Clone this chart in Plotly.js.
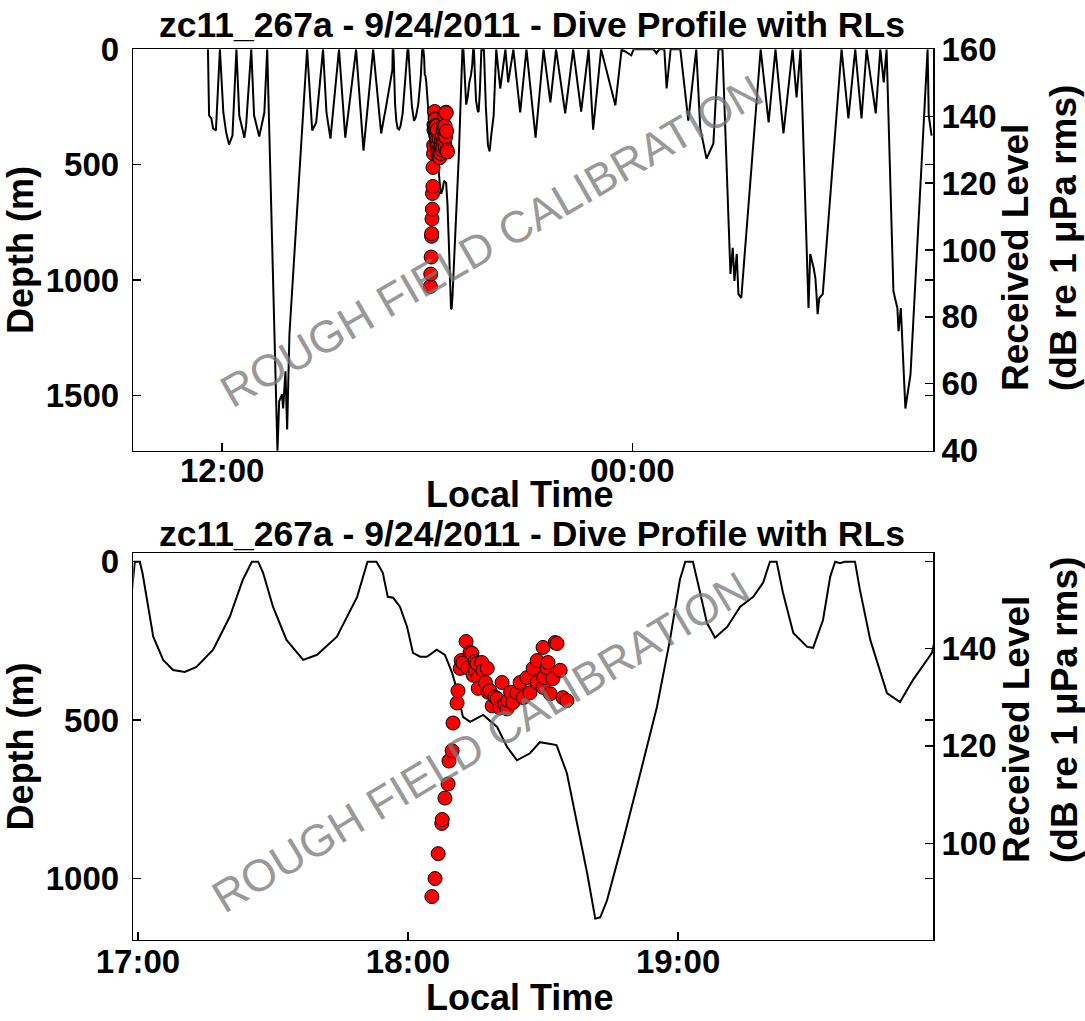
<!DOCTYPE html>
<html>
<head>
<meta charset="utf-8">
<script src="https://cdn.plot.ly/plotly-3.0.1.min.js"></script>
<style>html,body{margin:0;padding:0;background:#fff;}#chart{width:1085px;height:1021px;}</style>
</head>
<body>
<div id="chart"></div>
<script>
// ---- Dive profile (local time, depth in m) ----
const profileTime = [
 "2011-09-24 11:35","2011-09-24 11:37","2011-09-24 11:41","2011-09-24 11:44","2011-09-24 11:49","2011-09-24 11:56",
 "2011-09-24 12:02","2011-09-24 12:07","2011-09-24 12:12","2011-09-24 12:18","2011-09-24 12:25",
 "2011-09-24 12:30","2011-09-24 12:39","2011-09-24 12:42","2011-09-24 12:51",
 "2011-09-24 12:56","2011-09-24 13:05","2011-09-24 13:14","2011-09-24 13:19",
 "2011-09-24 13:37","2011-09-24 13:40","2011-09-24 13:45","2011-09-24 13:47","2011-09-24 13:51","2011-09-24 13:54","2011-09-24 13:58","2011-09-24 14:29",
 "2011-09-24 14:38","2011-09-24 14:45","2011-09-24 14:57",
 "2011-09-24 15:03","2011-09-24 15:10","2011-09-24 15:25",
 "2011-09-24 15:36","2011-09-24 15:55",
 "2011-09-24 16:08","2011-09-24 16:25",
 "2011-09-24 16:39","2011-09-24 16:48",
 "2011-09-24 16:58:42","2011-09-24 16:59:18","2011-09-24 17:00:24","2011-09-24 17:01:00","2011-09-24 17:03:24","2011-09-24 17:05:36",
 "2011-09-24 17:07:48","2011-09-24 17:10:24","2011-09-24 17:13:00","2011-09-24 17:16:42","2011-09-24 17:20:24","2011-09-24 17:23:18",
 "2011-09-24 17:25:18","2011-09-24 17:26:42","2011-09-24 17:27:48","2011-09-24 17:30:00","2011-09-24 17:33:00","2011-09-24 17:36:42",
 "2011-09-24 17:39:48","2011-09-24 17:44:12","2011-09-24 17:48:42","2011-09-24 17:51:00","2011-09-24 17:53:00","2011-09-24 17:54:24",
 "2011-09-24 17:55:30","2011-09-24 17:56:42","2011-09-24 17:58:12","2011-09-24 17:59:48","2011-09-24 18:01:06","2011-09-24 18:02:42",
 "2011-09-24 18:04:12","2011-09-24 18:06:24","2011-09-24 18:08:12","2011-09-24 18:09:48","2011-09-24 18:10:54","2011-09-24 18:12:12",
 "2011-09-24 18:13:48","2011-09-24 18:16:42","2011-09-24 18:19:48","2011-09-24 18:22:00","2011-09-24 18:24:12","2011-09-24 18:27:06",
 "2011-09-24 18:29:18","2011-09-24 18:33:00","2011-09-24 18:35:18","2011-09-24 18:37:36","2011-09-24 18:39:48","2011-09-24 18:41:36",
 "2011-09-24 18:42:42","2011-09-24 18:44:12","2011-09-24 18:47:48","2011-09-24 18:51:36","2011-09-24 18:55:18","2011-09-24 18:58:12",
 "2011-09-24 19:00:24","2011-09-24 19:01:36","2011-09-24 19:03:18","2011-09-24 19:04:54","2011-09-24 19:06:24","2011-09-24 19:08:12",
 "2011-09-24 19:10:54","2011-09-24 19:13:48","2011-09-24 19:16:42","2011-09-24 19:18:54","2011-09-24 19:20:24","2011-09-24 19:21:54",
 "2011-09-24 19:23:18","2011-09-24 19:25:36","2011-09-24 19:28:42","2011-09-24 19:30:00","2011-09-24 19:32:12","2011-09-24 19:33:48",
 "2011-09-24 19:34:54","2011-09-24 19:36:00","2011-09-24 19:37:00","2011-09-24 19:39:18","2011-09-24 19:40:24","2011-09-24 19:42:42",
 "2011-09-24 19:46:24","2011-09-24 19:49:18","2011-09-24 19:52:12","2011-09-24 19:56:24",
 "2011-09-24 20:01","2011-09-24 20:08","2011-09-24 20:17","2011-09-24 20:22","2011-09-24 20:31","2011-09-24 20:43","2011-09-24 20:54",
 "2011-09-24 21:10","2011-09-24 21:24","2011-09-24 21:36","2011-09-24 21:46","2011-09-24 22:02","2011-09-24 22:16",
 "2011-09-24 22:30","2011-09-24 22:43","2011-09-24 22:51","2011-09-24 23:05","2011-09-24 23:30","2011-09-24 23:41","2011-09-24 23:58",
 "2011-09-25 00:02","2011-09-25 00:37","2011-09-25 00:42","2011-09-25 00:47","2011-09-25 00:56","2011-09-25 01:00","2011-09-25 01:07",
 "2011-09-25 01:24","2011-09-25 01:38","2011-09-25 01:52","2011-09-25 01:59","2011-09-25 02:10","2011-09-25 02:22","2011-09-25 02:31",
 "2011-09-25 02:38","2011-09-25 02:52","2011-09-25 02:56","2011-09-25 02:59","2011-09-25 03:03","2011-09-25 03:06","2011-09-25 03:11",
 "2011-09-25 03:45","2011-09-25 03:59","2011-09-25 04:11","2011-09-25 04:25","2011-09-25 04:41","2011-09-25 04:48","2011-09-25 04:55",
 "2011-09-25 05:09","2011-09-25 05:12","2011-09-25 05:18","2011-09-25 05:21","2011-09-25 05:23","2011-09-25 05:25","2011-09-25 05:28",
 "2011-09-25 05:34","2011-09-25 06:07","2011-09-25 06:19","2011-09-25 06:31","2011-09-25 06:42","2011-09-25 06:51","2011-09-25 07:07",
 "2011-09-25 07:15","2011-09-25 07:21","2011-09-25 07:26","2011-09-25 07:38","2011-09-25 07:42","2011-09-25 07:45","2011-09-25 07:47",
 "2011-09-25 07:51","2011-09-25 07:59","2011-09-25 08:08","2011-09-25 08:38","2011-09-25 08:40","2011-09-25 08:45"
];
const profileDepth = [
 0,287,300,343,352,0,
 274,361,413,374,0,
 287,383,330,0,
 287,378,274,0,
 1745,1526,1496,1557,1396,1648,1235,0,
 352,317,0,
 274,387,0,
 383,0,
 439,0,
 365,243,
 89,0,0,35,237,310,
 342,348,332,278,174,57,
 0,0,35,142,247,310,
 294,237,111,0,0,35,
 111,114,142,206,288,300,
 300,278,294,351,405,490,
 506,484,522,585,627,605,
 570,579,668,826,984,1127,
 1123,1070,880,668,459,247,
 57,0,0,98,193,240,
 206,142,111,66,0,0,
 98,225,269,272,184,47,
 0,5,0,0,89,247,
 415,443,373,288,
 0,170,0,143,0,274,0,
 383,0,230,0,278,0,
 270,0,348,0,243,0,26,
 0,0,17,0,0,170,0,
 0,309,0,343,474,409,0,
 0,974,861,1004,887,1061,1078,
 0,317,0,365,0,209,0,
 1122,887,948,991,1061,1148,1078,
 1061,0,300,0,300,0,278,
 0,143,0,1048,1091,1122,1222,
 1122,1557,1409,0,287,374
];

// ---- Received levels (dB re 1 uPa rms) ----
const rlTime = [
 "2011-09-24 18:05:18","2011-09-24 18:06:00","2011-09-24 18:06:42","2011-09-24 18:07:30","2011-09-24 18:07:36","2011-09-24 18:08:12",
 "2011-09-24 18:08:54","2011-09-24 18:09:06","2011-09-24 18:09:48","2011-09-24 18:10:00","2011-09-24 18:10:54","2011-09-24 18:11:06",
 "2011-09-24 18:11:36","2011-09-24 18:11:48","2011-09-24 18:12:12","2011-09-24 18:12:54","2011-09-24 18:13:18","2011-09-24 18:13:48",
 "2011-09-24 18:14:12","2011-09-24 18:14:30","2011-09-24 18:14:54","2011-09-24 18:15:00","2011-09-24 18:15:18","2011-09-24 18:15:36",
 "2011-09-24 18:15:36","2011-09-24 18:16:24","2011-09-24 18:16:42","2011-09-24 18:17:12","2011-09-24 18:17:36","2011-09-24 18:17:48",
 "2011-09-24 18:18:12","2011-09-24 18:18:42","2011-09-24 18:19:18","2011-09-24 18:19:48","2011-09-24 18:20:24","2011-09-24 18:20:54",
 "2011-09-24 18:21:30","2011-09-24 18:22:00","2011-09-24 18:22:12","2011-09-24 18:22:48","2011-09-24 18:23:18","2011-09-24 18:24:12",
 "2011-09-24 18:24:54","2011-09-24 18:25:36","2011-09-24 18:26:24","2011-09-24 18:27:06","2011-09-24 18:27:48","2011-09-24 18:28:42",
 "2011-09-24 18:28:42","2011-09-24 18:30:00","2011-09-24 18:30:00","2011-09-24 18:30:12","2011-09-24 18:30:54","2011-09-24 18:31:06",
 "2011-09-24 18:31:36","2011-09-24 18:32:12","2011-09-24 18:32:42","2011-09-24 18:33:06","2011-09-24 18:33:48","2011-09-24 18:34:24",
 "2011-09-24 18:35:18"
];
const rlLevel = [
 89.1,92.8,97.9,104.1,104.9,109.3,
 112.2,116.9,119.0,124.7,128.8,131.3,
 135.9,137.5,137.0,141.4,136.0,139.2,
 139.0,134.5,137.3,135.5,136.9,134.0,
 131.8,137.1,135.5,133.0,135.9,131.0,
 131.3,128.2,130.0,129.7,127.8,133.0,
 128.5,127.6,129.3,131.0,128.9,130.9,
 133.0,129.9,134.0,130.9,135.9,133.0,
 137.5,140.2,132.0,134.0,136.0,137.1,
 130.7,133.8,141.2,141.0,135.5,129.9,
 129.3
];

const titleText = "zc11_267a - 9/24/2011 - Dive Profile with RLs";
const xTitle = "Local Time";
const depthTitle = "Depth (m)";
const rlTitle = "Received Level<br>(dB re 1 μPa rms)";
const watermark = "ROUGH FIELD CALIBRATION";

const FONT = "Liberation Sans, Arial, Helvetica, sans-serif";
const tickFont = {family: FONT, size: 33, color: "#000", weight: 700};
const titleFont = {family: FONT, size: 35.5, color: "#000", weight: 700};
const labelFont = {family: FONT, size: 36, color: "#000", weight: 700};
const xLabelFont = {family: FONT, size: 36, color: "#000", weight: 700};
const rlLabelFont = {family: FONT, size: 37, color: "#000", weight: 700};

const xDom = [133.3/1085, 933.3/1085];
const topDom = [1-450.7/1021, 1-49.3/1021];
const botDom = [1-939.5/1021, 1-553.3/1021];

const lineStyle = {color: "#000", width: 2};
const markerStyle = {color: "#ff0000", size: 14, line: {color: "#000", width: 1}};

const traces = [
 {x: profileTime, y: profileDepth, type: "scatter", mode: "lines", line: lineStyle, xaxis: "x", yaxis: "y", hoverinfo: "skip"},
 {x: rlTime, y: rlLevel, type: "scatter", mode: "markers", marker: markerStyle, xaxis: "x", yaxis: "y2"},
 {x: profileTime, y: profileDepth, type: "scatter", mode: "lines", line: lineStyle, xaxis: "x2", yaxis: "y3", hoverinfo: "skip"},
 {x: rlTime, y: rlLevel, type: "scatter", mode: "markers", marker: markerStyle, xaxis: "x2", yaxis: "y4"}
];

const axBase = {showgrid: false, zeroline: false, showline: true, linecolor: "#000", linewidth: 1.6,
  ticks: "inside", ticklen: 8, tickwidth: 1.4, tickcolor: "#000", tickfont: tickFont, automargin: false};

const layout = {
  width: 1085, height: 1021,
  margin: {l: 0, r: 0, t: 0, b: 0},
  paper_bgcolor: "#fff", plot_bgcolor: "#fff",
  showlegend: false,
  xaxis: Object.assign({}, axBase, {domain: xDom, anchor: "y", type: "date",
    range: ["2011-09-24 09:24", "2011-09-25 08:48"], tickformat: "%H:%M",
    tick0: "2011-09-24 12:00", dtick: 12*3600*1000, mirror: true, ticklabelstandoff: -10}),
  yaxis: Object.assign({}, axBase, {domain: topDom, anchor: "x", range: [1740, 0],
    tickvals: [0, 500, 1000, 1500], mirror: "ticks", ticklabelstandoff: 6,
    title: {text: depthTitle, font: labelFont, standoff: 6}}),
  yaxis2: Object.assign({}, axBase, {overlaying: "y", anchor: "x", side: "right", range: [40, 160],
    tickvals: [40, 60, 80, 100, 120, 140, 160]}),
  xaxis2: Object.assign({}, axBase, {domain: xDom, anchor: "y3", type: "date",
    range: ["2011-09-24 16:58:58", "2011-09-24 19:56:42"], tickformat: "%H:%M",
    tick0: "2011-09-24 17:00", dtick: 3600*1000, mirror: true, ticklabelstandoff: -8}),
  yaxis3: Object.assign({}, axBase, {domain: botDom, anchor: "x2", range: [1193, -26.5],
    tickvals: [0, 500, 1000], mirror: "ticks", ticklabelstandoff: 6,
    title: {text: depthTitle, font: labelFont, standoff: 6}}),
  yaxis4: Object.assign({}, axBase, {overlaying: "y3", anchor: "x2", side: "right", range: [80.3, 159.5],
    tickvals: [80, 100, 120, 140]}),
  annotations: [
    {text: titleText, xref: "paper", yref: "paper", x: 532/1085, y: 1-25/1021, xanchor: "center", yanchor: "middle",
     showarrow: false, font: titleFont},
    {text: titleText, xref: "paper", yref: "paper", x: 532/1085, y: 1-534/1021, xanchor: "center", yanchor: "middle",
     showarrow: false, font: titleFont},
    {text: xTitle, xref: "paper", yref: "paper", x: 519/1085, y: 1-495/1021, xanchor: "center", yanchor: "middle",
     showarrow: false, font: xLabelFont},
    {text: xTitle, xref: "paper", yref: "paper", x: 519/1085, y: 1-997/1021, xanchor: "center", yanchor: "middle",
     showarrow: false, font: xLabelFont},
    {text: rlTitle, xref: "paper", yref: "paper", x: 1040/1085, y: 1-238/1021, xanchor: "center", yanchor: "middle",
     textangle: -90, align: "left", showarrow: false, font: rlLabelFont},
    {text: rlTitle, xref: "paper", yref: "paper", x: 1040/1085, y: 1-710/1021, xanchor: "center", yanchor: "middle",
     textangle: -90, align: "left", showarrow: false, font: rlLabelFont},
    {text: watermark, xref: "paper", yref: "paper", x: 491/1085, y: 1-241/1021, xanchor: "center", yanchor: "middle",
     textangle: -30, showarrow: false, font: {family: FONT, size: 45, color: "rgba(120,120,120,0.75)"}},
    {text: watermark, xref: "paper", yref: "paper", x: 480/1085, y: 1-742/1021, xanchor: "center", yanchor: "middle",
     textangle: -31, showarrow: false, font: {family: FONT, size: 45, color: "rgba(120,120,120,0.75)"}}
  ]
};

Plotly.newPlot("chart", traces, layout, {staticPlot: true, displayModeBar: false});
</script>
</body>
</html>
